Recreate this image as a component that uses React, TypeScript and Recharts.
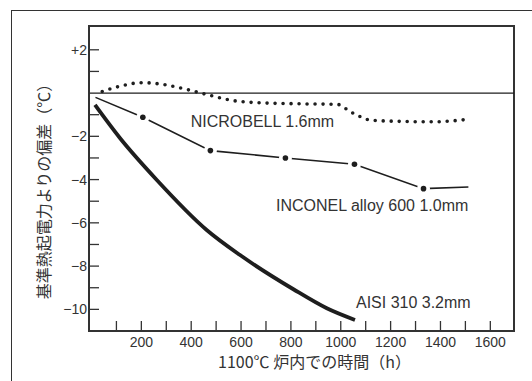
import React from "react";
import {
  LineChart,
  Line,
  XAxis,
  YAxis,
  ReferenceLine,
  ReferenceDot,
  Label,
} from "recharts";

// ---- data (hours, deviation °C) ----
const nicrobellHours = [43, 109, 203, 297, 377, 470, 569, 677, 850, 985, 1038, 1078, 1118, 1238, 1371, 1506];
const nicrobellDev = [0.07, 0.3, 0.48, 0.38, 0.18, -0.09, -0.35, -0.45, -0.5, -0.52, -0.86, -1.09, -1.25, -1.31, -1.33, -1.22];

const inconelHours = [16, 206, 477, 778, 1055, 1332, 1512];
const inconelDev = [-0.2, -1.12, -2.66, -3.0, -3.29, -4.42, -4.34];

const aisiHours = [14, 114, 262, 462, 596, 810, 944, 1057];
const aisiDev = [-0.55, -2.08, -4.02, -6.33, -7.49, -9.07, -9.95, -10.49];

const xDomain = [-10, 1695];
const yDomain = [-11, 3.1];
const xTicks = [100, 200, 300, 400, 500, 600, 700, 800, 900, 1000, 1100, 1200, 1300, 1400, 1500, 1600];
const xLabeled = [200, 400, 600, 800, 1000, 1200, 1400, 1600];
const yTicks = [2, 1, -1, -2, -3, -4, -5, -6, -7, -8, -9, -10];
const yLabels: Record<number, string> = { 2: "+2", [-2]: "−2", [-4]: "−4", [-6]: "−6", [-8]: "−8", [-10]: "−10" };

const seriesLabels = [
  { text: "NICROBELL 1.6mm", h: 398, v: -1.32 },
  { text: "INCONEL alloy 600 1.0mm", h: 740, v: -5.17 },
  { text: "AISI 310 3.2mm", h: 1061, v: -9.69 },
];

const yTitle = "基準熱起電力よりの偏差（℃）";
const xTitle = "1100℃ 炉内での時間（h）";

const zip = (xs: number[], ys: number[]) => xs.map((x, i) => ({ h: x, v: ys[i] }));
const nicrobell = zip(nicrobellHours, nicrobellDev);
const inconel = zip(inconelHours, inconelDev);
const aisi = zip(aisiHours, aisiDev);

const INK = "#1e1e1e";
const AXIS = "#333";
const LATIN = "'Liberation Sans', Arial, Helvetica, sans-serif";
const CJK = "'Noto Sans CJK JP', 'Liberation Sans', sans-serif";

const XTick = (props: any) => {
  const { x, y, payload } = props;
  const label = xLabeled.includes(payload.value) ? String(payload.value) : "";
  return (
    <g>
      <line x1={x} x2={x} y1={y} y2={y - 10} stroke={AXIS} strokeWidth={1.3} />
      {label && (
        <text x={x} y={y + 16} textAnchor="middle" fontSize={14} fontFamily={LATIN} fill="#333">
          {label}
        </text>
      )}
    </g>
  );
};

const YTick = (props: any) => {
  const { x, y, payload } = props;
  const label = yLabels[payload.value] ?? "";
  return (
    <g>
      <line x1={x} x2={x + 10} y1={y} y2={y} stroke={AXIS} strokeWidth={1.3} />
      {label && (
        <text x={x - 2} y={y + 5} textAnchor="end" fontSize={14} fontFamily={LATIN} fill="#333">
          {label}
        </text>
      )}
    </g>
  );
};

const InconelDot = (props: any) => {
  const { cx, cy, index } = props;
  if (index === 0 || index === inconel.length - 1) return <g key={`d${index}`} />;
  return (
    <g key={`d${index}`}>
      <circle cx={cx} cy={cy} r={6.5} fill="#fff" />
      <circle cx={cx} cy={cy} r={2.8} fill={INK} />
    </g>
  );
};

export default function App() {
  return (
    <div style={{ position: "absolute", left: 0, top: 0, width: 532, height: 381, background: "#fff" }}>
      <div
        style={{
          position: "absolute",
          left: 11,
          top: 10,
          width: 521,
          height: 371,
          borderLeft: "1.5px solid #333",
          borderTop: "1.5px solid #333",
          boxSizing: "border-box",
        }}
      />
      <div
        style={{
          position: "absolute",
          left: 88,
          top: 25,
          width: 427,
          height: 307,
          border: "2px solid #333",
          boxSizing: "border-box",
        }}
      />
      <div style={{ position: "absolute", left: 0, top: 0 }}>
        <LineChart width={532} height={381} margin={{ top: 26, right: 18, bottom: 0, left: 0 }}>
          <XAxis
            dataKey="h"
            type="number"
            domain={xDomain}
            ticks={xTicks}
            tick={<XTick />}
            tickSize={0}
            tickMargin={0}
            tickLine={false}
            axisLine={{ stroke: AXIS, strokeWidth: 1.8 }}
            height={50}
            interval={0}
            allowDataOverflow
          >
            <Label
              content={(p: any) => {
                const vb = p.viewBox;
                return (
                  <text
                    x={vb.x + vb.width / 2 + 13}
                    y={vb.y + 36.5}
                    textAnchor="middle"
                    fontSize={16}
                    fontFamily={CJK}
                    fill="#333"
                  >
                    {xTitle}
                  </text>
                );
              }}
            />
          </XAxis>
          <YAxis
            type="number"
            domain={yDomain}
            ticks={yTicks}
            tick={<YTick />}
            tickSize={0}
            tickMargin={0}
            tickLine={false}
            axisLine={{ stroke: AXIS, strokeWidth: 1.8 }}
            width={89}
            interval={0}
            allowDataOverflow
          >
            <Label
              content={(p: any) => {
                const vb = p.viewBox;
                const cx = 43;
                const cy = vb.y + vb.height / 2 + 9;
                return (
                  <text
                    x={cx}
                    y={cy}
                    transform={`rotate(-90 ${cx} ${cy})`}
                    textAnchor="middle"
                    dominantBaseline="central"
                    fontSize={16}
                    fontFamily={CJK}
                    fill="#333"
                  >
                    {yTitle}
                  </text>
                );
              }}
            />
          </YAxis>
          <ReferenceLine y={0} stroke={INK} strokeWidth={1.2} />
          <Line
            data={nicrobell}
            dataKey="v"
            type="monotone"
            stroke={INK}
            strokeWidth={3.6}
            strokeDasharray="0 8"
            strokeLinecap="round"
            dot={false}
            isAnimationActive={false}
          />
          <Line
            data={inconel}
            dataKey="v"
            type="linear"
            stroke={INK}
            strokeWidth={1.6}
            dot={<InconelDot />}
            isAnimationActive={false}
          />
          <Line
            data={aisi}
            dataKey="v"
            type="monotone"
            stroke={INK}
            strokeWidth={3.8}
            dot={false}
            isAnimationActive={false}
          />
          {seriesLabels.map((s) => (
            <ReferenceDot
              key={s.text}
              x={s.h}
              y={s.v}
              r={0}
              shape={(p: any) => (
                <text x={p.cx} y={p.cy} dy="0.36em" textAnchor="start" fontSize={16} fontFamily={LATIN} fill="#333">
                  {s.text}
                </text>
              )}
            />
          ))}
        </LineChart>
      </div>
    </div>
  );
}
